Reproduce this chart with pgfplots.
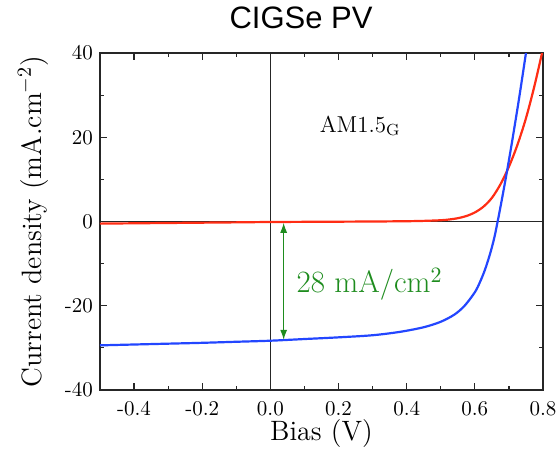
\documentclass[border=0pt]{standalone}
\usepackage{fontspec}
\newfontfamily\titlefont{Liberation Sans}
\usepackage{pgfplots}
\pgfplotsset{compat=1.18}
\usetikzlibrary{arrows.meta}
\definecolor{cblue}{RGB}{35,70,255}
\definecolor{cred}{RGB}{255,45,20}
\definecolor{cgreen}{RGB}{30,140,30}
\begin{document}
\begin{tikzpicture}
\begin{axis}[
  scale only axis,
  width=221.5pt, height=168.5pt,
  xmin=-0.5, xmax=0.8, ymin=-40, ymax=40,
  xtick={-0.4,-0.2,0,0.2,0.4,0.6,0.8},
  xticklabels={-0.4,-0.2,0.0,0.2,0.4,0.6,0.8},
  ytick={-40,-20,0,20,40},
  yticklabels={-40,-20,0,20,40},
  minor x tick num=1, minor y tick num=1,
  tick align=inside,
  major tick length=3.5pt, minor tick length=2pt,
  axis line style={line width=0.7pt, black!85},
  every tick/.style={line width=0.6pt, black!85},
  tick label style={font=\fontsize{10.5}{12}\selectfont},
  xticklabel style={yshift=-2pt},
  xlabel={Bias (V)},
  ylabel={Current density (mA.cm$^{-2}$)},
  label style={font=\fontsize{14}{16}\selectfont},
  xlabel style={at={(axis description cs:0.5,-0.128)}, anchor=center},
  ylabel style={at={(axis description cs:-0.151,0.5)}, anchor=center, rotate=0},
  clip mode=individual,
]
\draw[black!85, line width=0.6pt] (axis cs:0,-40) -- (axis cs:0,40);
\draw[black!85, line width=0.8pt] (axis cs:-0.5,0) -- (axis cs:0.8,0);

\addplot[cred, line width=1.1pt, smooth, tension=0.5] coordinates {
(-0.5,-0.5) (-0.3,-0.35) (-0.1,-0.2) (0,-0.12) (0.2,-0.04) (0.3,0) (0.4,0.07)
(0.45,0.15) (0.5,0.3) (0.525,0.48) (0.55,0.78) (0.575,1.3) (0.6,2.15) (0.625,3.5)
(0.65,5.6) (0.675,8.8) (0.7,13.0) (0.725,18.2) (0.75,24.5) (0.775,32.2) (0.8,41)
};
\addplot[cblue, line width=1.1pt, smooth, tension=0.5] coordinates {
(-0.5,-29.4) (-0.4,-29.2) (-0.3,-29.0) (-0.2,-28.8) (-0.1,-28.55) (0,-28.3)
(0.1,-27.9) (0.2,-27.5) (0.3,-27.0) (0.38,-26.2) (0.45,-25.1) (0.5,-23.8)
(0.54,-22.1) (0.57,-20.0) (0.6,-16.8) (0.615,-14.4) (0.63,-11.4) (0.645,-7.6)
(0.657,-3.9) (0.667,0) (0.68,5.5) (0.695,12.2) (0.71,19.3) (0.73,29.3) (0.75,40) (0.755,43)
};

\draw[cgreen, line width=0.6pt, {Latex[length=5pt,width=3.5pt]}-{Latex[length=5pt,width=3.5pt]}]
  (axis cs:0.039,-0.3) -- (axis cs:0.039,-28.1);
\node[anchor=base west, inner sep=0, text=cgreen, font=\fontsize{15.5}{17}\selectfont]
  at (axis cs:0.076,-16.9) {28 mA/cm$^2$};
\node[anchor=base west, inner sep=0, font=\fontsize{11.5}{13}\selectfont]
  at (axis cs:0.144,21.2) {AM1.5$_{\mathrm{G}}$};
\node[anchor=center, inner sep=0, font=\titlefont\fontsize{15.5}{17}\selectfont]
  at (rel axis cs:0.454,1.104) {CIGSe PV};
\end{axis}
\pgfresetboundingbox
\path[use as bounding box] ([shift={(-50pt,-36pt)}]current axis.south west) rectangle ([shift={(229.5pt,195pt)}]current axis.south west);
\end{tikzpicture}
\end{document}
